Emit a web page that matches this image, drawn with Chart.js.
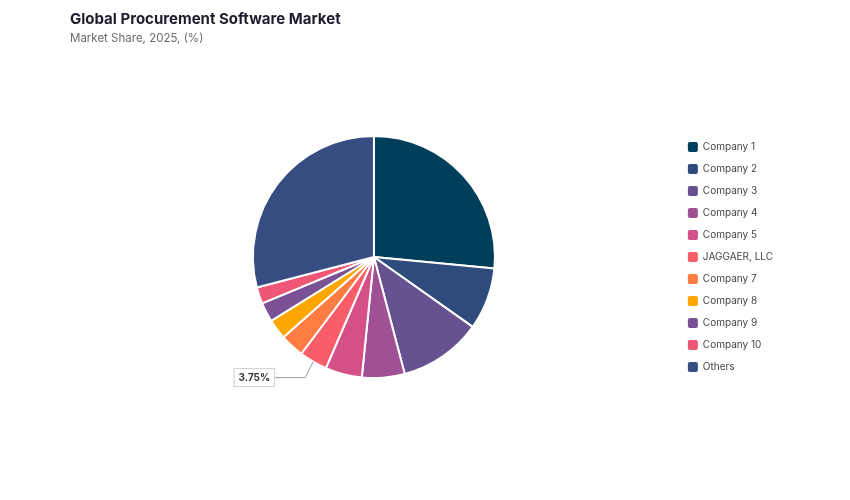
<!DOCTYPE html>
<html>
<head>
<meta charset="utf-8">
<script src="https://cdn.jsdelivr.net/npm/chart.js@4.4.1/dist/chart.umd.min.js"></script>
<style>
  html, body { margin: 0; padding: 0; background: #fff; }
  #wrap { position: relative; width: 850px; height: 500px; }
  #title { position: absolute; left: 70px; top: 9px; font: bold 15px Inter, sans-serif; color: #1d1d2b; }
  #subtitle { position: absolute; left: 70px; top: 31px; font: 11.5px Inter, sans-serif; color: #6b6b6b; }
  canvas { position: absolute; left: 0; top: 0; }
</style>
</head>
<body>
<div id="wrap">
  <canvas id="pieChart" width="850" height="500"></canvas>
  <div id="title">Global Procurement Software Market</div>
  <div id="subtitle">Market Share, 2025, (%)</div>
</div>
<script>
const companies = ['Company 1', 'Company 2', 'Company 3', 'Company 4', 'Company 5', 'JAGGAER, LLC',
    'Company 7', 'Company 8', 'Company 9', 'Company 10', 'Others'];
const shares = [26.5, 8.3, 11.1, 5.7, 4.9, 3.75, 3.2, 2.7, 2.6, 2.2, 29.05];
const sliceColors = ['#003f5c', '#2f4b7c', '#665191', '#a05195', '#d45087', '#f95d6a',
    '#ff7c43', '#ffa600', '#7a5195', '#ef5675', '#374c80'];
const labelledIndex = 5;

// callout box with a bent leader line for one slice
const calloutPlugin = {
    id: 'callout',
    afterDatasetsDraw(chart) {
        const arc = chart.getDatasetMeta(0).data[labelledIndex];
        if (!arc) return;
        const p = arc.getProps(['x', 'y', 'startAngle', 'endAngle', 'outerRadius'], true);
        const mid = (p.startAngle + p.endAngle) / 2;
        const sx = p.x + Math.cos(mid) * p.outerRadius;
        const sy = p.y + Math.sin(mid) * p.outerRadius;
        const ex = sx - 8, ey = sy + 16;
        const hx = ex - 30;
        const ctx = chart.ctx;
        const text = shares[labelledIndex] + '%';
        ctx.save();
        ctx.strokeStyle = '#9a9a9a';
        ctx.lineWidth = 1;
        ctx.beginPath();
        ctx.moveTo(sx, sy);
        ctx.lineTo(ex, ey);
        ctx.lineTo(hx, ey);
        ctx.stroke();
        ctx.font = 'bold 10px Inter, sans-serif';
        const w = ctx.measureText(text).width + 10;
        const h = 19;
        ctx.fillStyle = '#fff';
        ctx.fillRect(hx - w, ey - h / 2, w, h);
        ctx.strokeStyle = '#cfcfcf';
        ctx.strokeRect(hx - w + 0.5, ey - h / 2 + 0.5, w - 1, h - 1);
        ctx.fillStyle = '#333';
        ctx.textBaseline = 'middle';
        ctx.textAlign = 'center';
        ctx.fillText(text, hx - w / 2, ey + 0.5);
        ctx.restore();
    }
};

const ctx = document.getElementById('pieChart').getContext('2d');
const pieChart = new Chart(ctx, {
    type: 'pie',
    data: {
        labels: companies,
        datasets: [{
            data: shares,
            backgroundColor: sliceColors,
            borderColor: '#fff',
            borderWidth: 2,
            hoverOffset: 0,
            radius: 121
        }]
    },
    options: {
        responsive: false,
        animation: false,
        layout: { padding: { left: 72, right: 67, top: 100, bottom: 86 } },
        plugins: {
            tooltip: { enabled: false },
            legend: {
                position: 'right',
                labels: {
                    boxWidth: 10,
                    boxHeight: 10,
                    padding: 12,
                    color: '#444',
                    font: { family: 'Inter, sans-serif', size: 10 },
                    generateLabels(chart) {
                        const items = Chart.overrides.pie.plugins.legend.labels.generateLabels(chart);
                        items.forEach(it => { it.lineWidth = 0; it.borderRadius = 2; });
                        return items;
                    }
                }
            }
        }
    },
    plugins: [calloutPlugin]
});
</script>
</body>
</html>
